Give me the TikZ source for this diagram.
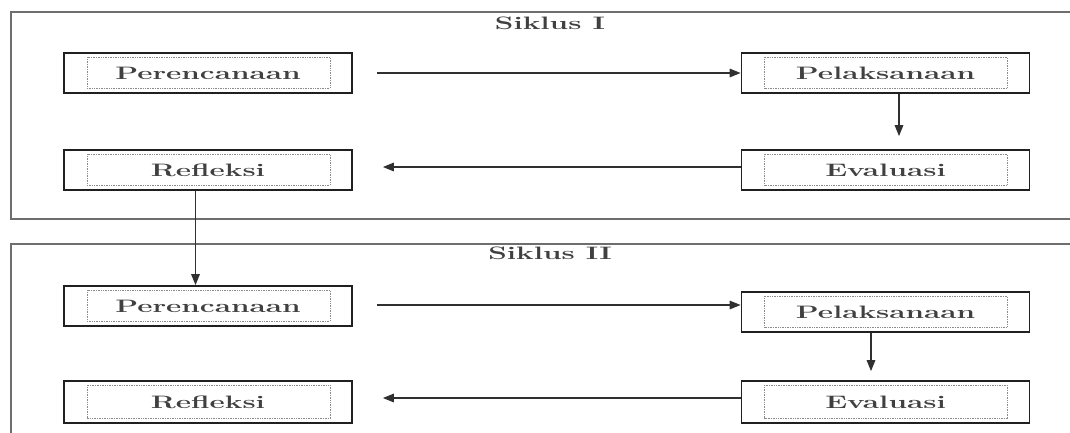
\documentclass[tikz,border=0pt]{standalone}
\usetikzlibrary{arrows.meta}
\usepackage{graphicx}
\definecolor{framec}{HTML}{6E6E6E}
\definecolor{boxc}{HTML}{202020}
\definecolor{arrc}{HTML}{303030}
\definecolor{dotc}{HTML}{8A8A8A}
\newcommand{\wide}[1]{\scalebox{1.65}[1]{#1}}
\begin{document}
\begin{tikzpicture}[x=1pt,y=-1pt,
  stagebox/.style={draw=boxc, line width=1.7pt, minimum width=288pt, minimum height=40pt,
    inner sep=0pt, font=\fontsize{18}{20}\selectfont\bfseries, text=black!75},
  framel/.style={draw=framec, line width=1.4pt},
  conn/.style={draw=arrc, line width=1.5pt, -{Triangle[length=11pt,width=8.5pt]}},
  title/.style={font=\fontsize{18}{20}\selectfont\bfseries, text=black!75, inner sep=0pt}]
\useasboundingbox (0,0) rectangle (1070,432);
% frames
\draw[framel] (1072,12) -- (11,12) -- (11,219) -- (1072,219);
\draw[framel] (1072,244) -- (11,244) -- (11,440);
\node[title] (t1) at (550,23) {\wide{Siklus I}};
\node[title] (t2) at (550,253) {\wide{Siklus II}};
% Siklus I
\node[stagebox] (per1) at (208,73) {\wide{Perencanaan}};
\node[stagebox] (pel1) at (885.5,73) {\wide{Pelaksanaan}};
\node[stagebox] (ref1) at (208,170) {\wide{Refleksi}};
\node[stagebox] (eva1) at (885.5,170) {\wide{Evaluasi}};
% Siklus II
\node[stagebox] (per2) at (208,306) {\wide{Perencanaan}};
\node[stagebox] (pel2) at (885.5,312) {\wide{Pelaksanaan}};
\node[stagebox, minimum height=42pt] (ref2) at (208,402) {\wide{Refleksi}};
\node[stagebox, minimum height=42pt] (eva2) at (885.5,402) {\wide{Evaluasi}};
% inner dotted boxes
\foreach \n in {per1,pel1,ref1,eva1,per2,pel2,ref2,eva2}{
  \draw[dotc, line width=0.7pt, densely dotted] ([shift={(24,5)}]\n.north west) rectangle ([shift={(-23,-6)}]\n.south east);
}
% connectors
\draw[conn, shorten <=24pt] (per1.east) -- (pel1.west);
\draw[conn] ([xshift=13.5pt]pel1.south) -- ([xshift=13.5pt,yshift=13pt]eva1.north);
\draw[conn, shorten >=30pt] ([yshift=3pt]eva1.west) -- ([yshift=3pt]ref1.east);
\draw[conn] ([xshift=-12.5pt]ref1.south) -- ([xshift=-12.5pt]per2.north);
\draw[conn, shorten <=24pt] ([yshift=1pt]per2.east) -- ([yshift=7pt]pel2.west);
\draw[conn] ([xshift=-14.5pt]pel2.south) -- ([xshift=-14.5pt,yshift=9pt]eva2.north);
\draw[conn, shorten >=30pt] ([yshift=4pt]eva2.west) -- ([yshift=4pt]ref2.east);
\end{tikzpicture}
\end{document}
